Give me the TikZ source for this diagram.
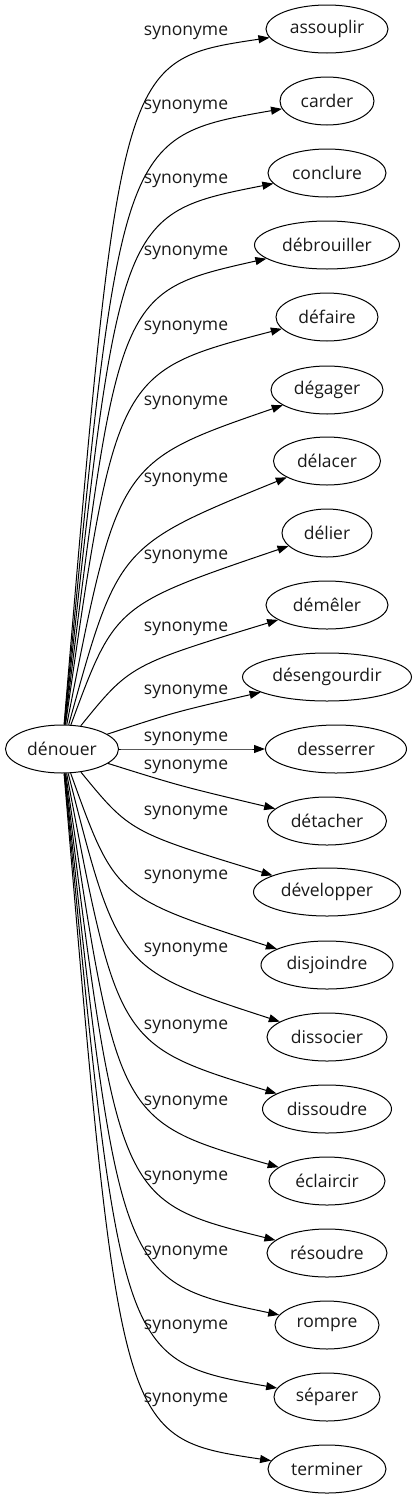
\documentclass[tikz,border=0pt]{standalone}
\usepackage{fontspec}
\setmainfont{Open Sans}
\usetikzlibrary{arrows.meta,shapes.geometric}
\tikzset{
  word/.style={draw, ellipse, line width=1pt, inner xsep=2pt, inner ysep=0pt, minimum height=48pt, text=black!90, font=\fontsize{17.5pt}{20pt}\selectfont},
  rel/.style={text=black!90, font=\fontsize{17.5pt}{20pt}\selectfont},
  syn/.style={line width=1pt, -{Triangle[length=11pt,width=8pt]}}
}
\begin{document}
\begin{tikzpicture}[x=1pt,y=-1pt]
\useasboundingbox (0,0) rectangle (415,1499);
\node[word, minimum width=113pt] (denouer) at (62,749) {dénouer};
\foreach \n/\x/\y/\w/\bx/\by/\ly/\t in {
  assouplir/327/29/122/120/60/33/assouplir,
  carder/327/101/94/120/137/107/carder,
  conclure/327/173/118/119/214/181/conclure,
  debrouiller/327/245/145/118/292/253/débrouiller,
  defaire/327/317/102/116/372/328/défaire,
  degager/327/390/112/118/462/403/dégager,
  delacer/327/461/107/118/546/480/délacer,
  delier/327/533/90/115/605/557/délier,
  demeler/327/605/122/130/665/629/démêler,
  desengourdir/327/677/169/175/712/692/désengourdir,
  desserrer/336/749/141/190/749/739/desserrer,
  detacher/327/821/119/180/786/767/détacher,
  developper/327/892/147/130/832/813/développer,
  disjoindre/327/965/132/115/897/877/disjoindre,
  dissocier/327/1037/120/118/969/950/dissocier,
  dissoudre/327/1109/129/118/1045/1027/dissoudre,
  eclaircir/327/1181/116/117/1121/1103/éclaircir,
  resoudre/327/1253/120/118/1201/1178/résoudre,
  rompre/327/1325/104/119/1281/1253/rompre,
  separer/327/1397/106/120/1360/1327/séparer,
  terminer/327/1469/118/120/1438/1400/terminer}{
  \node[word, minimum width=\w pt] (\n) at (\x,\y) {\t};
  \draw[syn] (denouer) .. controls (\bx,\by) .. (\n);
  \node[rel] (l\n) at (186,\ly) {synonyme};
}
\end{tikzpicture}
\end{document}
